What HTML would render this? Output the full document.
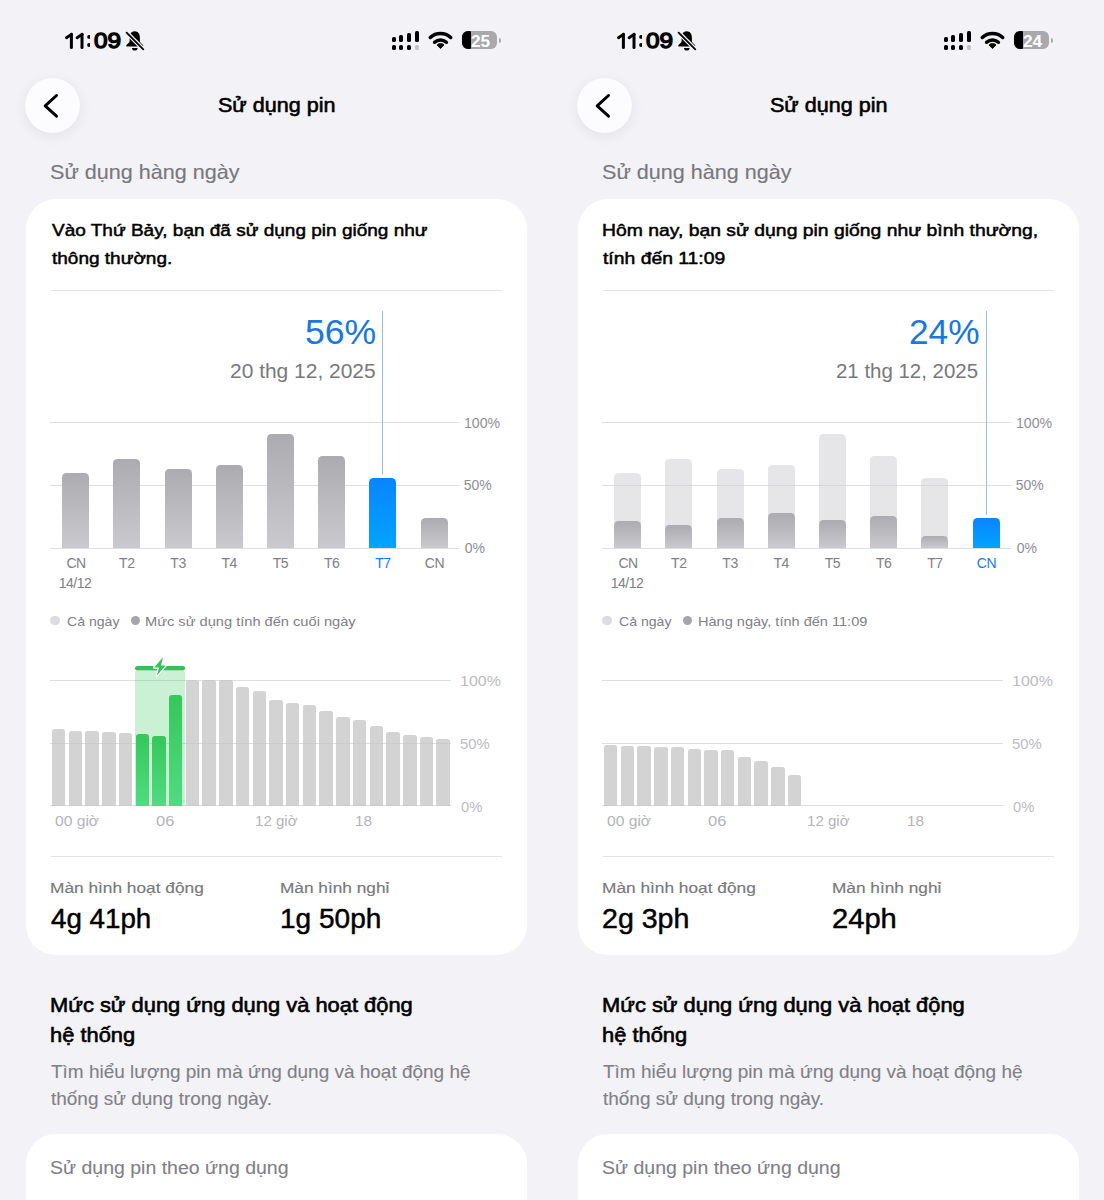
<!DOCTYPE html>
<html><head><meta charset="utf-8"><title>Sử dụng pin</title>
<style>
*{margin:0;padding:0;box-sizing:border-box}
html,body{width:1104px;height:1200px;overflow:hidden;background:#f2f2f7}
body{font-family:"Liberation Sans", sans-serif;position:relative}
.p{position:absolute;top:0;width:552px;height:1200px;overflow:hidden}
.t{position:absolute;white-space:nowrap}
.r{position:absolute}
</style></head><body>
<div class="p" style="left:0"><div class="t" style="left:93.60px;top:29.65px;font-size:21.8px;line-height:21.8px;color:#000;font-weight:400;-webkit-text-stroke:1.3px #000;transform:scaleX(1.1167);transform-origin:0 0;">09</div><svg class="r" style="left:60px;top:30px" width="30" height="22" viewBox="60 30 30 22">
<path d="M71.4 34.4L66.5 37.7" stroke="#000" stroke-width="2.9" stroke-linecap="round"/>
<path d="M71.4 34.3V47.6" stroke="#000" stroke-width="3.0" stroke-linecap="round"/>
<path d="M82.0 34.4L77.1 37.7" stroke="#000" stroke-width="2.9" stroke-linecap="round"/>
<path d="M82.0 34.3V47.6" stroke="#000" stroke-width="3.0" stroke-linecap="round"/>
<circle cx="89.1" cy="36.9" r="1.95"/><circle cx="89.1" cy="45.0" r="1.95"/>
</svg><svg class="r" style="left:120px;top:27px" width="30" height="28" viewBox="0 0 30 28">
<path d="M14.7 4.3C11.3 4.3 9.6 7.2 9.6 10.8V14.3C9.6 15.9 6.6 17.3 6.3 18.4C6.1 19.2 6.7 19.6 7.6 19.6H21.9C22.8 19.6 23.4 19.2 23.2 18.4C22.9 17.3 19.9 15.9 19.9 14.3V10.8C19.9 7.2 18.2 4.3 14.7 4.3Z" fill="#000"/>
<path d="M12 20.9H17.6C17.6 22.5 16.4 23.5 14.8 23.5C13.2 23.5 12 22.5 12 20.9Z" fill="#000"/>
<line x1="6.6" y1="5.6" x2="23.3" y2="22.3" stroke="#f2f2f7" stroke-width="4.2" stroke-linecap="round"/>
<line x1="6.6" y1="5.6" x2="23.3" y2="22.3" stroke="#000" stroke-width="1.8" stroke-linecap="round"/>
</svg><div class="r" style="left:391.90px;top:36.60px;width:4.00px;height:5.30px;background:#000;border-radius:1.6px"></div><div class="r" style="left:391.90px;top:45.00px;width:4.00px;height:4.60px;background:#000;border-radius:1.6px"></div><div class="r" style="left:399.30px;top:35.00px;width:4.00px;height:6.90px;background:#000;border-radius:1.6px"></div><div class="r" style="left:399.30px;top:45.00px;width:4.00px;height:4.60px;background:#000;border-radius:1.6px"></div><div class="r" style="left:406.90px;top:32.80px;width:4.00px;height:9.10px;background:#000;border-radius:1.6px"></div><div class="r" style="left:406.90px;top:45.00px;width:4.00px;height:4.60px;background:#000;border-radius:1.6px"></div><div class="r" style="left:414.70px;top:31.00px;width:4.00px;height:10.90px;background:#000;border-radius:1.6px"></div><div class="r" style="left:414.70px;top:45.00px;width:4.00px;height:4.60px;background:#c4c4c8;border-radius:1.6px"></div><svg class="r" style="left:428px;top:31px" width="25" height="19" viewBox="0 0 25 19">
<path d="M2.33 6.50A15.2 15.2 0 0 1 22.67 6.50" stroke="#000" stroke-width="3.5" fill="none" stroke-linecap="round"/>
<path d="M6.61 11.26A8.8 8.8 0 0 1 18.39 11.26" stroke="#000" stroke-width="3.5" fill="none" stroke-linecap="round"/>
<path d="M12.5 17.6L8.96 13.93A5.1 5.1 0 0 1 16.04 13.93Z" fill="#000" stroke="#000" stroke-width="0.8" stroke-linejoin="round"/>
</svg><div class="r" style="left:462.20px;top:30.60px;width:34.70px;height:18.90px;background:#a9a9ad;border-radius:6px"></div><div class="r" style="left:462.20px;top:30.60px;width:8.80px;height:18.90px;background:#000;border-radius:6px 1px 1px 6px"></div><div class="r" style="left:498.60px;top:37.80px;width:2.40px;height:5.00px;background:#a9a9ad;border-radius:0 3px 3px 0"></div><div class="t" style="left:471.00px;top:32.80px;font-size:16.3px;line-height:16.3px;color:#fff;font-weight:700;transform:scaleX(1.0556);transform-origin:0 0;">25</div><div class="r" style="left:25.30px;top:77.80px;width:55.20px;height:55.20px;background:#fcfcfe;border-radius:50%;box-shadow:0 3px 14px rgba(0,0,0,0.07)"></div><svg class="r" style="left:40px;top:90px" width="22" height="32" viewBox="0 0 22 32">
<polyline points="16.5,5.5 5.2,15.85 16.5,26.2" fill="none" stroke="#000" stroke-width="3.0" stroke-linecap="round" stroke-linejoin="round"/></svg><div class="t" style="left:217.70px;top:94.85px;font-size:20.5px;line-height:20.5px;color:#000;font-weight:400;-webkit-text-stroke:0.6px #000;transform:scaleX(1.0505);transform-origin:0 0;">Sử dụng pin</div><div class="t" style="left:50.07px;top:160.62px;font-size:21px;line-height:21px;color:#78787d;font-weight:400;-webkit-text-stroke:0.15px #78787d;transform:scaleX(1.0266);transform-origin:0 0;">Sử dụng hàng ngày</div><div class="r" style="left:25.50px;top:198.60px;width:501.80px;height:756.00px;background:#fff;border-radius:30px"></div><div class="t" style="left:51.90px;top:222.47px;font-size:17.4px;line-height:17.4px;color:#000;font-weight:400;-webkit-text-stroke:0.5px #000;transform:scaleX(1.0927);transform-origin:0 0;">Vào Thứ Bảy, bạn đã sử dụng pin giống như</div><div class="t" style="left:51.90px;top:250.27px;font-size:17.4px;line-height:17.4px;color:#000;font-weight:400;-webkit-text-stroke:0.5px #000;transform:scaleX(1.0927);transform-origin:0 0;">thông thường.</div><div class="r" style="left:50.50px;top:290.10px;width:451.50px;height:1.00px;background:#e3e3e7"></div><div class="t" style="left:305.08px;top:313.97px;font-size:35px;line-height:35px;color:#1877e0;font-weight:400;transform:scaleX(1.0162);transform-origin:0 0;">56%</div><div class="t" style="left:229.55px;top:360.67px;font-size:20px;line-height:20px;color:#78787c;font-weight:400;transform:scaleX(1.0478);transform-origin:0 0;">20 thg 12, 2025</div><div class="r" style="left:50.40px;top:422.30px;width:409.00px;height:1.00px;background:#dfdfe3"></div><div class="r" style="left:50.40px;top:484.90px;width:409.00px;height:1.00px;background:#dfdfe3"></div><div class="r" style="left:50.40px;top:547.60px;width:409.00px;height:1.00px;background:#dfdfe3"></div><div class="t" style="left:463.79px;top:415.65px;font-size:14px;line-height:14px;color:#8e8e93;font-weight:400;transform:scaleX(1.0086);transform-origin:0 0;">100%</div><div class="t" style="left:463.80px;top:478.25px;font-size:14px;line-height:14px;color:#8e8e93;font-weight:400;">50%</div><div class="t" style="left:464.80px;top:540.95px;font-size:14px;line-height:14px;color:#8e8e93;font-weight:400;">0%</div><div class="r" style="left:62.20px;top:473.00px;width:27.00px;height:75.30px;background:linear-gradient(#ababb0,#c9c9ce);border-radius:4.5px 4.5px 0 0"></div><div class="r" style="left:113.40px;top:458.90px;width:27.00px;height:89.40px;background:linear-gradient(#ababb0,#c9c9ce);border-radius:4.5px 4.5px 0 0"></div><div class="r" style="left:164.60px;top:469.00px;width:27.00px;height:79.30px;background:linear-gradient(#ababb0,#c9c9ce);border-radius:4.5px 4.5px 0 0"></div><div class="r" style="left:215.80px;top:465.30px;width:27.00px;height:83.00px;background:linear-gradient(#ababb0,#c9c9ce);border-radius:4.5px 4.5px 0 0"></div><div class="r" style="left:267.00px;top:434.00px;width:27.00px;height:114.30px;background:linear-gradient(#ababb0,#c9c9ce);border-radius:4.5px 4.5px 0 0"></div><div class="r" style="left:318.20px;top:455.50px;width:27.00px;height:92.80px;background:linear-gradient(#ababb0,#c9c9ce);border-radius:4.5px 4.5px 0 0"></div><div class="r" style="left:369.40px;top:477.80px;width:27.00px;height:70.50px;background:linear-gradient(#0a84ff,#02a4ff);border-radius:4.5px 4.5px 0 0"></div><div class="r" style="left:420.60px;top:518.30px;width:27.00px;height:30.00px;background:linear-gradient(#ababb0,#c9c9ce);border-radius:4.5px 4.5px 0 0"></div><div class="r" style="left:382.25px;top:311.20px;width:1.20px;height:163.60px;background:#94c2ec"></div><div class="t" style="left:66.42px;top:555.55px;font-size:14px;line-height:14px;color:#808085;font-weight:400;letter-spacing:-0.450px;">CN</div><div class="t" style="left:119.12px;top:555.55px;font-size:14px;line-height:14px;color:#808085;font-weight:400;letter-spacing:-0.450px;">T2</div><div class="t" style="left:170.33px;top:555.55px;font-size:14px;line-height:14px;color:#808085;font-weight:400;letter-spacing:-0.450px;">T3</div><div class="t" style="left:221.53px;top:555.55px;font-size:14px;line-height:14px;color:#808085;font-weight:400;letter-spacing:-0.450px;">T4</div><div class="t" style="left:272.73px;top:555.55px;font-size:14px;line-height:14px;color:#808085;font-weight:400;letter-spacing:-0.450px;">T5</div><div class="t" style="left:323.93px;top:555.55px;font-size:14px;line-height:14px;color:#808085;font-weight:400;letter-spacing:-0.450px;">T6</div><div class="t" style="left:375.13px;top:555.55px;font-size:14px;line-height:14px;color:#1a7be0;font-weight:400;letter-spacing:-0.450px;">T7</div><div class="t" style="left:424.83px;top:555.55px;font-size:14px;line-height:14px;color:#808085;font-weight:400;letter-spacing:-0.450px;">CN</div><div class="t" style="left:58.70px;top:575.75px;font-size:14px;line-height:14px;color:#808085;font-weight:400;letter-spacing:-0.500px;">14/12</div><div class="r" style="left:50.40px;top:615.80px;width:9.30px;height:9.30px;background:#dcdce0;border-radius:50%"></div><div class="t" style="left:66.70px;top:615.07px;font-size:13.5px;line-height:13.5px;color:#808085;font-weight:400;transform:scaleX(1.0440);transform-origin:0 0;">Cả ngày</div><div class="r" style="left:130.60px;top:615.80px;width:9.30px;height:9.30px;background:#a5a5aa;border-radius:50%"></div><div class="t" style="left:145.32px;top:615.07px;font-size:13.5px;line-height:13.5px;color:#808085;font-weight:400;transform:scaleX(1.0835);transform-origin:0 0;">Mức sử dụng tính đến cuối ngày</div><div class="r" style="left:50.40px;top:679.50px;width:400.50px;height:1.00px;background:#dfdfe3"></div><div class="r" style="left:50.40px;top:742.80px;width:400.50px;height:1.00px;background:#dfdfe3"></div><div class="r" style="left:50.40px;top:805.10px;width:400.50px;height:1.00px;background:#dfdfe3"></div><div class="t" style="left:460.02px;top:674.47px;font-size:14.8px;line-height:14.8px;color:#bcbcc0;font-weight:400;transform:scaleX(1.0811);transform-origin:0 0;">100%</div><div class="t" style="left:460.10px;top:736.77px;font-size:14.8px;line-height:14.8px;color:#bcbcc0;font-weight:400;">50%</div><div class="t" style="left:461.10px;top:800.07px;font-size:14.8px;line-height:14.8px;color:#bcbcc0;font-weight:400;">0%</div><div class="r" style="left:134.50px;top:670.50px;width:50.16px;height:135.10px;background:rgba(52,199,89,0.26)"></div><div class="r" style="left:51.90px;top:729.49px;width:13.50px;height:76.11px;background:rgba(192,192,194,0.7);border-radius:2.6px 2.6px 0 0"></div><div class="r" style="left:68.62px;top:730.74px;width:13.50px;height:74.86px;background:rgba(192,192,194,0.7);border-radius:2.6px 2.6px 0 0"></div><div class="r" style="left:85.34px;top:730.74px;width:13.50px;height:74.86px;background:rgba(192,192,194,0.7);border-radius:2.6px 2.6px 0 0"></div><div class="r" style="left:102.06px;top:732.00px;width:13.50px;height:73.60px;background:rgba(192,192,194,0.7);border-radius:2.6px 2.6px 0 0"></div><div class="r" style="left:118.78px;top:733.13px;width:13.50px;height:72.47px;background:rgba(192,192,194,0.7);border-radius:2.6px 2.6px 0 0"></div><div class="r" style="left:135.50px;top:734.38px;width:13.50px;height:71.22px;background:linear-gradient(#34c759,#52db82);border-radius:3px 3px 0 0"></div><div class="r" style="left:152.22px;top:735.64px;width:13.50px;height:69.96px;background:linear-gradient(#34c759,#52db82);border-radius:3px 3px 0 0"></div><div class="r" style="left:168.94px;top:695.45px;width:13.50px;height:110.15px;background:linear-gradient(#34c759,#52db82);border-radius:3px 3px 0 0"></div><div class="r" style="left:185.66px;top:680.00px;width:13.50px;height:125.60px;background:rgba(192,192,194,0.7);border-radius:2.6px 2.6px 0 0"></div><div class="r" style="left:202.38px;top:680.00px;width:13.50px;height:125.60px;background:rgba(192,192,194,0.7);border-radius:2.6px 2.6px 0 0"></div><div class="r" style="left:219.10px;top:680.00px;width:13.50px;height:125.60px;background:rgba(192,192,194,0.7);border-radius:2.6px 2.6px 0 0"></div><div class="r" style="left:235.82px;top:687.03px;width:13.50px;height:118.57px;background:rgba(192,192,194,0.7);border-radius:2.6px 2.6px 0 0"></div><div class="r" style="left:252.54px;top:690.68px;width:13.50px;height:114.92px;background:rgba(192,192,194,0.7);border-radius:2.6px 2.6px 0 0"></div><div class="r" style="left:269.26px;top:700.47px;width:13.50px;height:105.13px;background:rgba(192,192,194,0.7);border-radius:2.6px 2.6px 0 0"></div><div class="r" style="left:285.98px;top:703.36px;width:13.50px;height:102.24px;background:rgba(192,192,194,0.7);border-radius:2.6px 2.6px 0 0"></div><div class="r" style="left:302.70px;top:704.87px;width:13.50px;height:100.73px;background:rgba(192,192,194,0.7);border-radius:2.6px 2.6px 0 0"></div><div class="r" style="left:319.42px;top:710.90px;width:13.50px;height:94.70px;background:rgba(192,192,194,0.7);border-radius:2.6px 2.6px 0 0"></div><div class="r" style="left:336.14px;top:716.93px;width:13.50px;height:88.67px;background:rgba(192,192,194,0.7);border-radius:2.6px 2.6px 0 0"></div><div class="r" style="left:352.86px;top:719.94px;width:13.50px;height:85.66px;background:rgba(192,192,194,0.7);border-radius:2.6px 2.6px 0 0"></div><div class="r" style="left:369.58px;top:725.97px;width:13.50px;height:79.63px;background:rgba(192,192,194,0.7);border-radius:2.6px 2.6px 0 0"></div><div class="r" style="left:386.30px;top:731.87px;width:13.50px;height:73.73px;background:rgba(192,192,194,0.7);border-radius:2.6px 2.6px 0 0"></div><div class="r" style="left:403.02px;top:734.89px;width:13.50px;height:70.71px;background:rgba(192,192,194,0.7);border-radius:2.6px 2.6px 0 0"></div><div class="r" style="left:419.74px;top:737.27px;width:13.50px;height:68.33px;background:rgba(192,192,194,0.7);border-radius:2.6px 2.6px 0 0"></div><div class="r" style="left:436.46px;top:739.41px;width:13.50px;height:66.19px;background:rgba(192,192,194,0.7);border-radius:2.6px 2.6px 0 0"></div><svg class="r" style="left:133.50px;top:652px" width="52.16" height="28" viewBox="133.50 652 52.16 28">
<line x1="136.85" y1="668.25" x2="182.31" y2="668.25" stroke="#33c158" stroke-width="4.7" stroke-linecap="round"/>
<path d="M162.48 657.2L153.78 667.4H158.68L156.38 675.5L165.08 665.4H160.48Z" fill="#33c158" stroke="#fff" stroke-width="2.6" paint-order="stroke" stroke-linejoin="round"/>
</svg><div class="t" style="left:55.00px;top:814.37px;font-size:14.8px;line-height:14.8px;color:#b4b4b9;font-weight:400;transform:scaleX(1.0548);transform-origin:0 0;">00 giờ</div><div class="t" style="left:155.50px;top:814.37px;font-size:14.8px;line-height:14.8px;color:#b4b4b9;font-weight:400;transform:scaleX(1.1125);transform-origin:0 0;">06</div><div class="t" style="left:255.18px;top:814.37px;font-size:14.8px;line-height:14.8px;color:#b4b4b9;font-weight:400;transform:scaleX(1.0195);transform-origin:0 0;">12 giờ</div><div class="t" style="left:354.77px;top:814.37px;font-size:14.8px;line-height:14.8px;color:#b4b4b9;font-weight:400;transform:scaleX(1.0333);transform-origin:0 0;">18</div><div class="r" style="left:50.50px;top:856.00px;width:451.50px;height:1.00px;background:#e3e3e7"></div><div class="t" style="left:50.28px;top:880.36px;font-size:15.4px;line-height:15.4px;color:#78787d;font-weight:400;-webkit-text-stroke:0.15px #78787d;transform:scaleX(1.1230);transform-origin:0 0;">Màn hình hoạt động</div><div class="t" style="left:280.18px;top:880.36px;font-size:15.4px;line-height:15.4px;color:#78787d;font-weight:400;-webkit-text-stroke:0.15px #78787d;transform:scaleX(1.1208);transform-origin:0 0;">Màn hình nghỉ</div><div class="t" style="left:51.00px;top:905.91px;font-size:26.8px;line-height:26.8px;color:#000;font-weight:400;-webkit-text-stroke:0.45px #000;transform:scaleX(1.0354);transform-origin:0 0;">4g 41ph</div><div class="t" style="left:280.25px;top:905.91px;font-size:26.8px;line-height:26.8px;color:#000;font-weight:400;-webkit-text-stroke:0.45px #000;transform:scaleX(1.0463);transform-origin:0 0;">1g 50ph</div><div class="t" style="left:50.12px;top:995.42px;font-size:20.3px;line-height:20.3px;color:#000;font-weight:400;-webkit-text-stroke:0.6px #000;transform:scaleX(1.0791);transform-origin:0 0;">Mức sử dụng ứng dụng và hoạt động</div><div class="t" style="left:50.12px;top:1024.62px;font-size:20.3px;line-height:20.3px;color:#000;font-weight:400;-webkit-text-stroke:0.6px #000;transform:scaleX(1.0791);transform-origin:0 0;">hệ thống</div><div class="t" style="left:51.20px;top:1062.86px;font-size:18.6px;line-height:18.6px;color:#808085;font-weight:400;-webkit-text-stroke:0.1px #808085;transform:scaleX(1.0200);transform-origin:0 0;">Tìm hiểu lượng pin mà ứng dụng và hoạt động hệ</div><div class="t" style="left:51.20px;top:1090.06px;font-size:18.6px;line-height:18.6px;color:#808085;font-weight:400;-webkit-text-stroke:0.1px #808085;transform:scaleX(1.0200);transform-origin:0 0;">thống sử dụng trong ngày.</div><div class="r" style="left:25.50px;top:1134.30px;width:501.80px;height:120.00px;background:#fff;border-radius:30px"></div><div class="t" style="left:49.53px;top:1158.71px;font-size:18.3px;line-height:18.3px;color:#808085;font-weight:400;-webkit-text-stroke:0.1px #808085;transform:scaleX(1.0662);transform-origin:0 0;">Sử dụng pin theo ứng dụng</div></div>
<div class="p" style="left:552px"><div class="t" style="left:93.60px;top:29.65px;font-size:21.8px;line-height:21.8px;color:#000;font-weight:400;-webkit-text-stroke:1.3px #000;transform:scaleX(1.1167);transform-origin:0 0;">09</div><svg class="r" style="left:60px;top:30px" width="30" height="22" viewBox="60 30 30 22">
<path d="M71.4 34.4L66.5 37.7" stroke="#000" stroke-width="2.9" stroke-linecap="round"/>
<path d="M71.4 34.3V47.6" stroke="#000" stroke-width="3.0" stroke-linecap="round"/>
<path d="M82.0 34.4L77.1 37.7" stroke="#000" stroke-width="2.9" stroke-linecap="round"/>
<path d="M82.0 34.3V47.6" stroke="#000" stroke-width="3.0" stroke-linecap="round"/>
<circle cx="89.1" cy="36.9" r="1.95"/><circle cx="89.1" cy="45.0" r="1.95"/>
</svg><svg class="r" style="left:120px;top:27px" width="30" height="28" viewBox="0 0 30 28">
<path d="M14.7 4.3C11.3 4.3 9.6 7.2 9.6 10.8V14.3C9.6 15.9 6.6 17.3 6.3 18.4C6.1 19.2 6.7 19.6 7.6 19.6H21.9C22.8 19.6 23.4 19.2 23.2 18.4C22.9 17.3 19.9 15.9 19.9 14.3V10.8C19.9 7.2 18.2 4.3 14.7 4.3Z" fill="#000"/>
<path d="M12 20.9H17.6C17.6 22.5 16.4 23.5 14.8 23.5C13.2 23.5 12 22.5 12 20.9Z" fill="#000"/>
<line x1="6.6" y1="5.6" x2="23.3" y2="22.3" stroke="#f2f2f7" stroke-width="4.2" stroke-linecap="round"/>
<line x1="6.6" y1="5.6" x2="23.3" y2="22.3" stroke="#000" stroke-width="1.8" stroke-linecap="round"/>
</svg><div class="r" style="left:391.90px;top:36.60px;width:4.00px;height:5.30px;background:#000;border-radius:1.6px"></div><div class="r" style="left:391.90px;top:45.00px;width:4.00px;height:4.60px;background:#000;border-radius:1.6px"></div><div class="r" style="left:399.30px;top:35.00px;width:4.00px;height:6.90px;background:#000;border-radius:1.6px"></div><div class="r" style="left:399.30px;top:45.00px;width:4.00px;height:4.60px;background:#000;border-radius:1.6px"></div><div class="r" style="left:406.90px;top:32.80px;width:4.00px;height:9.10px;background:#000;border-radius:1.6px"></div><div class="r" style="left:406.90px;top:45.00px;width:4.00px;height:4.60px;background:#000;border-radius:1.6px"></div><div class="r" style="left:414.70px;top:31.00px;width:4.00px;height:10.90px;background:#000;border-radius:1.6px"></div><div class="r" style="left:414.70px;top:45.00px;width:4.00px;height:4.60px;background:#c4c4c8;border-radius:1.6px"></div><svg class="r" style="left:428px;top:31px" width="25" height="19" viewBox="0 0 25 19">
<path d="M2.33 6.50A15.2 15.2 0 0 1 22.67 6.50" stroke="#000" stroke-width="3.5" fill="none" stroke-linecap="round"/>
<path d="M6.61 11.26A8.8 8.8 0 0 1 18.39 11.26" stroke="#000" stroke-width="3.5" fill="none" stroke-linecap="round"/>
<path d="M12.5 17.6L8.96 13.93A5.1 5.1 0 0 1 16.04 13.93Z" fill="#000" stroke="#000" stroke-width="0.8" stroke-linejoin="round"/>
</svg><div class="r" style="left:462.20px;top:30.60px;width:34.70px;height:18.90px;background:#a9a9ad;border-radius:6px"></div><div class="r" style="left:462.20px;top:30.60px;width:8.40px;height:18.90px;background:#000;border-radius:6px 1px 1px 6px"></div><div class="r" style="left:498.60px;top:37.80px;width:2.40px;height:5.00px;background:#a9a9ad;border-radius:0 3px 3px 0"></div><div class="t" style="left:471.00px;top:32.80px;font-size:16.3px;line-height:16.3px;color:#fff;font-weight:700;transform:scaleX(1.0556);transform-origin:0 0;">24</div><div class="r" style="left:25.30px;top:77.80px;width:55.20px;height:55.20px;background:#fcfcfe;border-radius:50%;box-shadow:0 3px 14px rgba(0,0,0,0.07)"></div><svg class="r" style="left:40px;top:90px" width="22" height="32" viewBox="0 0 22 32">
<polyline points="16.5,5.5 5.2,15.85 16.5,26.2" fill="none" stroke="#000" stroke-width="3.0" stroke-linecap="round" stroke-linejoin="round"/></svg><div class="t" style="left:217.70px;top:94.85px;font-size:20.5px;line-height:20.5px;color:#000;font-weight:400;-webkit-text-stroke:0.6px #000;transform:scaleX(1.0505);transform-origin:0 0;">Sử dụng pin</div><div class="t" style="left:50.07px;top:160.62px;font-size:21px;line-height:21px;color:#78787d;font-weight:400;-webkit-text-stroke:0.15px #78787d;transform:scaleX(1.0266);transform-origin:0 0;">Sử dụng hàng ngày</div><div class="r" style="left:25.50px;top:198.60px;width:501.80px;height:756.00px;background:#fff;border-radius:30px"></div><div class="t" style="left:50.09px;top:222.47px;font-size:17.4px;line-height:17.4px;color:#000;font-weight:400;-webkit-text-stroke:0.5px #000;transform:scaleX(1.1123);transform-origin:0 0;">Hôm nay, bạn sử dụng pin giống như bình thường,</div><div class="t" style="left:51.20px;top:250.27px;font-size:17.4px;line-height:17.4px;color:#000;font-weight:400;-webkit-text-stroke:0.5px #000;transform:scaleX(1.1123);transform-origin:0 0;">tính đến 11:09</div><div class="r" style="left:50.50px;top:290.10px;width:451.50px;height:1.00px;background:#e3e3e7"></div><div class="t" style="left:356.99px;top:313.97px;font-size:35px;line-height:35px;color:#1877e0;font-weight:400;transform:scaleX(1.0074);transform-origin:0 0;">24%</div><div class="t" style="left:284.48px;top:360.67px;font-size:20px;line-height:20px;color:#78787c;font-weight:400;transform:scaleX(1.0217);transform-origin:0 0;">21 thg 12, 2025</div><div class="r" style="left:50.40px;top:422.30px;width:409.00px;height:1.00px;background:#dfdfe3"></div><div class="r" style="left:50.40px;top:484.90px;width:409.00px;height:1.00px;background:#dfdfe3"></div><div class="r" style="left:50.40px;top:547.60px;width:409.00px;height:1.00px;background:#dfdfe3"></div><div class="t" style="left:463.79px;top:415.65px;font-size:14px;line-height:14px;color:#8e8e93;font-weight:400;transform:scaleX(1.0086);transform-origin:0 0;">100%</div><div class="t" style="left:463.80px;top:478.25px;font-size:14px;line-height:14px;color:#8e8e93;font-weight:400;">50%</div><div class="t" style="left:464.80px;top:540.95px;font-size:14px;line-height:14px;color:#8e8e93;font-weight:400;">0%</div><div class="r" style="left:62.20px;top:473.00px;width:27.00px;height:75.30px;background:rgba(205,205,210,0.5);border-radius:4.5px 4.5px 0 0"></div><div class="r" style="left:62.20px;top:520.50px;width:27.00px;height:27.80px;background:linear-gradient(#ababb0,#c9c9ce);border-radius:4.5px 4.5px 0 0"></div><div class="r" style="left:113.40px;top:458.90px;width:27.00px;height:89.40px;background:rgba(205,205,210,0.5);border-radius:4.5px 4.5px 0 0"></div><div class="r" style="left:113.40px;top:524.50px;width:27.00px;height:23.80px;background:linear-gradient(#ababb0,#c9c9ce);border-radius:4.5px 4.5px 0 0"></div><div class="r" style="left:164.60px;top:469.00px;width:27.00px;height:79.30px;background:rgba(205,205,210,0.5);border-radius:4.5px 4.5px 0 0"></div><div class="r" style="left:164.60px;top:518.20px;width:27.00px;height:30.10px;background:linear-gradient(#ababb0,#c9c9ce);border-radius:4.5px 4.5px 0 0"></div><div class="r" style="left:215.80px;top:465.30px;width:27.00px;height:83.00px;background:rgba(205,205,210,0.5);border-radius:4.5px 4.5px 0 0"></div><div class="r" style="left:215.80px;top:512.90px;width:27.00px;height:35.40px;background:linear-gradient(#ababb0,#c9c9ce);border-radius:4.5px 4.5px 0 0"></div><div class="r" style="left:267.00px;top:434.00px;width:27.00px;height:114.30px;background:rgba(205,205,210,0.5);border-radius:4.5px 4.5px 0 0"></div><div class="r" style="left:267.00px;top:519.50px;width:27.00px;height:28.80px;background:linear-gradient(#ababb0,#c9c9ce);border-radius:4.5px 4.5px 0 0"></div><div class="r" style="left:318.20px;top:455.50px;width:27.00px;height:92.80px;background:rgba(205,205,210,0.5);border-radius:4.5px 4.5px 0 0"></div><div class="r" style="left:318.20px;top:515.50px;width:27.00px;height:32.80px;background:linear-gradient(#ababb0,#c9c9ce);border-radius:4.5px 4.5px 0 0"></div><div class="r" style="left:369.40px;top:477.80px;width:27.00px;height:70.50px;background:rgba(205,205,210,0.5);border-radius:4.5px 4.5px 0 0"></div><div class="r" style="left:369.40px;top:535.50px;width:27.00px;height:12.80px;background:linear-gradient(#ababb0,#c9c9ce);border-radius:4.5px 4.5px 0 0"></div><div class="r" style="left:420.60px;top:518.00px;width:27.00px;height:30.30px;background:linear-gradient(#0a84ff,#02a4ff);border-radius:4.5px 4.5px 0 0"></div><div class="r" style="left:433.55px;top:311.20px;width:1.20px;height:203.80px;background:#94c2ec"></div><div class="t" style="left:66.42px;top:555.55px;font-size:14px;line-height:14px;color:#808085;font-weight:400;letter-spacing:-0.450px;">CN</div><div class="t" style="left:119.12px;top:555.55px;font-size:14px;line-height:14px;color:#808085;font-weight:400;letter-spacing:-0.450px;">T2</div><div class="t" style="left:170.33px;top:555.55px;font-size:14px;line-height:14px;color:#808085;font-weight:400;letter-spacing:-0.450px;">T3</div><div class="t" style="left:221.53px;top:555.55px;font-size:14px;line-height:14px;color:#808085;font-weight:400;letter-spacing:-0.450px;">T4</div><div class="t" style="left:272.73px;top:555.55px;font-size:14px;line-height:14px;color:#808085;font-weight:400;letter-spacing:-0.450px;">T5</div><div class="t" style="left:323.93px;top:555.55px;font-size:14px;line-height:14px;color:#808085;font-weight:400;letter-spacing:-0.450px;">T6</div><div class="t" style="left:375.13px;top:555.55px;font-size:14px;line-height:14px;color:#808085;font-weight:400;letter-spacing:-0.450px;">T7</div><div class="t" style="left:424.83px;top:555.55px;font-size:14px;line-height:14px;color:#1a7be0;font-weight:400;letter-spacing:-0.450px;">CN</div><div class="t" style="left:58.70px;top:575.75px;font-size:14px;line-height:14px;color:#808085;font-weight:400;letter-spacing:-0.500px;">14/12</div><div class="r" style="left:50.40px;top:615.80px;width:9.30px;height:9.30px;background:#dcdce0;border-radius:50%"></div><div class="t" style="left:66.70px;top:615.07px;font-size:13.5px;line-height:13.5px;color:#808085;font-weight:400;transform:scaleX(1.0440);transform-origin:0 0;">Cả ngày</div><div class="r" style="left:131.20px;top:615.80px;width:9.30px;height:9.30px;background:#a5a5aa;border-radius:50%"></div><div class="t" style="left:145.92px;top:615.07px;font-size:13.5px;line-height:13.5px;color:#808085;font-weight:400;transform:scaleX(1.0776);transform-origin:0 0;">Hàng ngày, tính đến 11:09</div><div class="r" style="left:50.40px;top:679.50px;width:400.50px;height:1.00px;background:#dfdfe3"></div><div class="r" style="left:50.40px;top:742.80px;width:400.50px;height:1.00px;background:#dfdfe3"></div><div class="r" style="left:50.40px;top:805.10px;width:400.50px;height:1.00px;background:#dfdfe3"></div><div class="t" style="left:460.02px;top:674.47px;font-size:14.8px;line-height:14.8px;color:#bcbcc0;font-weight:400;transform:scaleX(1.0811);transform-origin:0 0;">100%</div><div class="t" style="left:460.10px;top:736.77px;font-size:14.8px;line-height:14.8px;color:#bcbcc0;font-weight:400;">50%</div><div class="t" style="left:461.10px;top:800.07px;font-size:14.8px;line-height:14.8px;color:#bcbcc0;font-weight:400;">0%</div><div class="r" style="left:51.90px;top:744.94px;width:13.50px;height:60.66px;background:rgba(192,192,194,0.7);border-radius:2.6px 2.6px 0 0"></div><div class="r" style="left:68.62px;top:745.94px;width:13.50px;height:59.66px;background:rgba(192,192,194,0.7);border-radius:2.6px 2.6px 0 0"></div><div class="r" style="left:85.34px;top:745.94px;width:13.50px;height:59.66px;background:rgba(192,192,194,0.7);border-radius:2.6px 2.6px 0 0"></div><div class="r" style="left:102.06px;top:746.94px;width:13.50px;height:58.66px;background:rgba(192,192,194,0.7);border-radius:2.6px 2.6px 0 0"></div><div class="r" style="left:118.78px;top:746.94px;width:13.50px;height:58.66px;background:rgba(192,192,194,0.7);border-radius:2.6px 2.6px 0 0"></div><div class="r" style="left:135.50px;top:748.58px;width:13.50px;height:57.02px;background:rgba(192,192,194,0.7);border-radius:2.6px 2.6px 0 0"></div><div class="r" style="left:152.22px;top:749.96px;width:13.50px;height:55.64px;background:rgba(192,192,194,0.7);border-radius:2.6px 2.6px 0 0"></div><div class="r" style="left:168.94px;top:749.96px;width:13.50px;height:55.64px;background:rgba(192,192,194,0.7);border-radius:2.6px 2.6px 0 0"></div><div class="r" style="left:185.66px;top:757.37px;width:13.50px;height:48.23px;background:rgba(192,192,194,0.7);border-radius:2.6px 2.6px 0 0"></div><div class="r" style="left:202.38px;top:761.01px;width:13.50px;height:44.59px;background:rgba(192,192,194,0.7);border-radius:2.6px 2.6px 0 0"></div><div class="r" style="left:219.10px;top:767.29px;width:13.50px;height:38.31px;background:rgba(192,192,194,0.7);border-radius:2.6px 2.6px 0 0"></div><div class="r" style="left:235.82px;top:774.83px;width:13.50px;height:30.77px;background:rgba(192,192,194,0.7);border-radius:2.6px 2.6px 0 0"></div><div class="t" style="left:55.00px;top:814.37px;font-size:14.8px;line-height:14.8px;color:#b4b4b9;font-weight:400;transform:scaleX(1.0548);transform-origin:0 0;">00 giờ</div><div class="t" style="left:155.50px;top:814.37px;font-size:14.8px;line-height:14.8px;color:#b4b4b9;font-weight:400;transform:scaleX(1.1125);transform-origin:0 0;">06</div><div class="t" style="left:255.18px;top:814.37px;font-size:14.8px;line-height:14.8px;color:#b4b4b9;font-weight:400;transform:scaleX(1.0195);transform-origin:0 0;">12 giờ</div><div class="t" style="left:354.77px;top:814.37px;font-size:14.8px;line-height:14.8px;color:#b4b4b9;font-weight:400;transform:scaleX(1.0333);transform-origin:0 0;">18</div><div class="r" style="left:50.50px;top:856.00px;width:451.50px;height:1.00px;background:#e3e3e7"></div><div class="t" style="left:50.28px;top:880.36px;font-size:15.4px;line-height:15.4px;color:#78787d;font-weight:400;-webkit-text-stroke:0.15px #78787d;transform:scaleX(1.1230);transform-origin:0 0;">Màn hình hoạt động</div><div class="t" style="left:280.18px;top:880.36px;font-size:15.4px;line-height:15.4px;color:#78787d;font-weight:400;-webkit-text-stroke:0.15px #78787d;transform:scaleX(1.1208);transform-origin:0 0;">Màn hình nghỉ</div><div class="t" style="left:49.93px;top:905.91px;font-size:26.8px;line-height:26.8px;color:#000;font-weight:400;-webkit-text-stroke:0.45px #000;transform:scaleX(1.0663);transform-origin:0 0;">2g 3ph</div><div class="t" style="left:280.21px;top:905.91px;font-size:26.8px;line-height:26.8px;color:#000;font-weight:400;-webkit-text-stroke:0.45px #000;transform:scaleX(1.0862);transform-origin:0 0;">24ph</div><div class="t" style="left:50.12px;top:995.42px;font-size:20.3px;line-height:20.3px;color:#000;font-weight:400;-webkit-text-stroke:0.6px #000;transform:scaleX(1.0791);transform-origin:0 0;">Mức sử dụng ứng dụng và hoạt động</div><div class="t" style="left:50.12px;top:1024.62px;font-size:20.3px;line-height:20.3px;color:#000;font-weight:400;-webkit-text-stroke:0.6px #000;transform:scaleX(1.0791);transform-origin:0 0;">hệ thống</div><div class="t" style="left:51.20px;top:1062.86px;font-size:18.6px;line-height:18.6px;color:#808085;font-weight:400;-webkit-text-stroke:0.1px #808085;transform:scaleX(1.0200);transform-origin:0 0;">Tìm hiểu lượng pin mà ứng dụng và hoạt động hệ</div><div class="t" style="left:51.20px;top:1090.06px;font-size:18.6px;line-height:18.6px;color:#808085;font-weight:400;-webkit-text-stroke:0.1px #808085;transform:scaleX(1.0200);transform-origin:0 0;">thống sử dụng trong ngày.</div><div class="r" style="left:25.50px;top:1134.30px;width:501.80px;height:120.00px;background:#fff;border-radius:30px"></div><div class="t" style="left:49.53px;top:1158.71px;font-size:18.3px;line-height:18.3px;color:#808085;font-weight:400;-webkit-text-stroke:0.1px #808085;transform:scaleX(1.0662);transform-origin:0 0;">Sử dụng pin theo ứng dụng</div></div>
</body></html>
